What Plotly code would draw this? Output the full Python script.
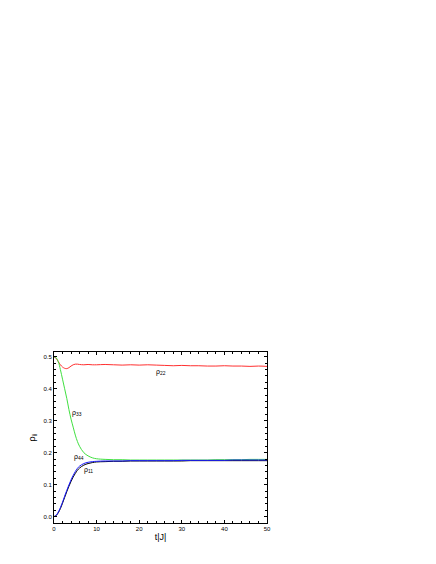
import plotly.graph_objects as go

t = [0, 0.5, 1, 1.5, 2, 2.5, 3, 3.5, 4, 4.5, 5, 5.5, 6, 7, 8, 9, 10, 12, 14, 16, 18, 20, 22, 24, 26, 28, 30, 32, 34, 36, 38, 40, 42, 44, 46, 48, 50]
rho22 = [0.5, 0.495, 0.485, 0.475, 0.468, 0.464, 0.463, 0.466, 0.471, 0.475, 0.477, 0.477, 0.476, 0.475, 0.476, 0.475, 0.475, 0.476, 0.475, 0.474, 0.475, 0.474, 0.475, 0.474, 0.473, 0.472, 0.473, 0.472, 0.472, 0.471, 0.471, 0.472, 0.471, 0.471, 0.470, 0.471, 0.470]
rho33 = [0.5, 0.497, 0.485, 0.46, 0.43, 0.40, 0.37, 0.335, 0.305, 0.28, 0.255, 0.235, 0.22, 0.2, 0.19, 0.184, 0.181, 0.179, 0.178, 0.178, 0.177, 0.177, 0.177, 0.177, 0.177, 0.177, 0.177, 0.177, 0.177, 0.177, 0.178, 0.178, 0.178, 0.178, 0.179, 0.179, 0.179]
rho11 = [0.0, 0.003, 0.012, 0.025, 0.042, 0.06, 0.078, 0.095, 0.11, 0.124, 0.135, 0.145, 0.152, 0.161, 0.166, 0.169, 0.171, 0.172, 0.173, 0.173, 0.174, 0.174, 0.174, 0.174, 0.174, 0.174, 0.174, 0.175, 0.175, 0.175, 0.175, 0.175, 0.175, 0.175, 0.175, 0.175, 0.175]
rho44 = [0.0, 0.004, 0.014, 0.028, 0.045, 0.064, 0.082, 0.099, 0.115, 0.129, 0.141, 0.151, 0.158, 0.166, 0.17, 0.172, 0.173, 0.174, 0.174, 0.174, 0.175, 0.175, 0.175, 0.175, 0.175, 0.175, 0.176, 0.176, 0.176, 0.176, 0.176, 0.176, 0.177, 0.177, 0.177, 0.177, 0.177]

series = [("ρ<sub>22</sub>", rho22, "#ff3030", 25, 0.452),
          ("ρ<sub>33</sub>", rho33, "#40e040", 5.5, 0.325),
          ("ρ<sub>11</sub>", rho11, "black", 8, 0.145),
          ("ρ<sub>44</sub>", rho44, "#1a1aff", 5.8, 0.185)]

fig = go.Figure()
for name, y, color, lx, ly in series:
    fig.add_trace(go.Scatter(x=t, y=y, mode="lines", line=dict(color=color, width=1, shape="spline"), showlegend=False))
    fig.add_annotation(x=lx, y=ly, text=name, showarrow=False, font=dict(size=7, color="black"))

axis = dict(showline=True, linecolor="black", linewidth=1, mirror="allticks", ticks="inside",
            ticklen=3, tickcolor="black", showgrid=False, zeroline=False,
            tickfont=dict(size=6, color="black"), minor=dict(ticks="inside", ticklen=2, tickcolor="black"))
fig.update_xaxes(axis, range=[0, 50], dtick=10, minor_dtick=2,
                 title=dict(text="t|J|", font=dict(size=9, color="black"), standoff=2))
fig.update_yaxes(axis, range=[-0.02, 0.515], dtick=0.1, tickformat=".1f", minor_dtick=0.02,
                 title=dict(text="ρ<sub>ii</sub>", font=dict(size=9, color="black"), standoff=6))
fig.update_layout(width=436, height=564, plot_bgcolor="white", paper_bgcolor="white",
                  font=dict(family="Arial, Liberation Sans", color="black"),
                  margin=dict(l=46, r=177, t=344, b=49))
fig.write_html("out.html")
